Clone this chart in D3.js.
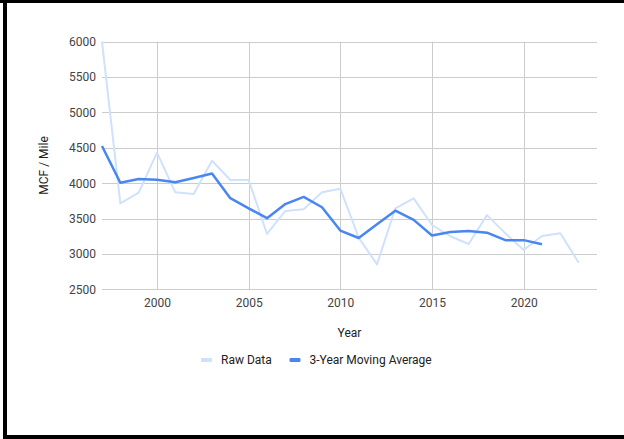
<!DOCTYPE html>
<html>
<head>
<meta charset="utf-8">
<script src="https://cdn.jsdelivr.net/npm/d3@7"></script>
<style>
  html, body { margin: 0; padding: 0; background: #fff; }
  svg { display: block; font-family: Roboto, Arial, sans-serif; }
</style>
</head>
<body>
<svg id="chart" width="624" height="439"></svg>
<script>
// Gas volume per mile of line, yearly readings and the 3-year moving average
const years = [1997, 1998, 1999, 2000, 2001, 2002, 2003, 2004, 2005, 2006, 2007, 2008, 2009,
  2010, 2011, 2012, 2013, 2014, 2015, 2016, 2017, 2018, 2019, 2020, 2021, 2022, 2023];
const rawData = [6000, 3716, 3866, 4431, 3871, 3847, 4318, 4045, 4045, 3282, 3607, 3631, 3871,
  3922, 3230, 2853, 3645, 3786, 3409, 3250, 3140, 3549, 3291, 3055, 3253, 3291, 2876];
const maYears = [1997, 1998, 1999, 2000, 2001, 2002, 2003, 2004, 2005, 2006, 2007, 2008, 2009,
  2010, 2011, 2012, 2013, 2014, 2015, 2016, 2017, 2018, 2019, 2020, 2021];
const movingAvg = [4526, 4007, 4059, 4049, 4012, 4073, 4137, 3788, 3645, 3505, 3705, 3806, 3660,
  3330, 3225, 3420, 3612, 3482, 3260, 3310, 3325, 3300, 3195, 3195, 3138];
const xTicks = [2000, 2005, 2010, 2015, 2020];
const yTicks = [2500, 3000, 3500, 4000, 4500, 5000, 5500, 6000];
const seriesNames = ["Raw Data", "3-Year Moving Average"];

const svg = d3.select("#chart");
const W = 624, H = 439;
const plot = { left: 102, right: 597, top: 41.7, bottom: 289.3 };

// page frame
svg.append("rect").attr("x", 0).attr("y", 0).attr("width", W).attr("height", 3).attr("fill", "#000");
svg.append("rect").attr("x", 3).attr("y", 0).attr("width", 4).attr("height", H).attr("fill", "#000");
svg.append("rect").attr("x", 3).attr("y", 435).attr("width", W - 3).attr("height", 4).attr("fill", "#000");

const x = d3.scaleLinear().domain([1997, 2024]).range([plot.left, plot.right]);
const y = d3.scaleLinear().domain([2500, 6000]).range([plot.bottom, plot.top]);

const grid = svg.append("g");
grid.selectAll("line.h").data(yTicks).join("line")
  .attr("x1", plot.left).attr("x2", plot.right)
  .attr("y1", d => Math.round(y(d)) + 0.5).attr("y2", d => Math.round(y(d)) + 0.5)
  .attr("stroke", "#cccccc").attr("stroke-width", 1);
grid.selectAll("line.v").data(xTicks).join("line")
  .attr("y1", plot.top).attr("y2", plot.bottom)
  .attr("x1", d => Math.round(x(d)) + 0.5).attr("x2", d => Math.round(x(d)) + 0.5)
  .attr("stroke", "#cccccc").attr("stroke-width", 1);

// axes drawn with d3-axis, domain paths and tick marks hidden
const yAxis = svg.append("g").attr("transform", `translate(${plot.left},0)`)
  .call(d3.axisLeft(y).tickValues(yTicks).tickSize(0).tickPadding(6).tickFormat(d3.format("d")));
const xAxis = svg.append("g").attr("transform", `translate(0,${plot.bottom})`)
  .call(d3.axisBottom(x).tickValues(xTicks).tickSize(0).tickPadding(9).tickFormat(d3.format("d")));
[yAxis, xAxis].forEach(a => {
  a.select(".domain").remove();
  a.selectAll("text").attr("fill", "#444").style("font-size", "12px").style("font-family", "Roboto, Arial, sans-serif");
});

// axis titles
svg.append("text").attr("x", (plot.left + plot.right) / 2).attr("y", 337)
  .attr("text-anchor", "middle").attr("fill", "#222").style("font-size", "12px").text("Year");
svg.append("text")
  .attr("transform", `translate(48,${(plot.top + plot.bottom) / 2}) rotate(-90)`)
  .attr("text-anchor", "middle").attr("fill", "#222").style("font-size", "12px").text("MCF / Mile");

// series lines
const rawPts = years.map((yr, i) => [yr, rawData[i]]);
const maPts = maYears.map((yr, i) => [yr, movingAvg[i]]);
const line = d3.line().x(d => x(d[0])).y(d => y(d[1]));

svg.append("path").datum(rawPts).attr("d", line)
  .attr("fill", "none").attr("stroke", "#d0e1fc").attr("stroke-width", 2)
  .attr("stroke-linejoin", "round");
svg.append("path").datum(maPts).attr("d", line)
  .attr("fill", "none").attr("stroke", "#4a86f0").attr("stroke-width", 2.5)
  .attr("stroke-linejoin", "round");

// legend
const legendColors = ["#d0e1fc", "#4a86f0"];
const legendX = [201, 289.5];
const lg = svg.append("g");
seriesNames.forEach((name, i) => {
  lg.append("rect").attr("x", legendX[i]).attr("y", 358).attr("width", 11).attr("height", 4)
    .attr("rx", 1).attr("fill", legendColors[i]);
  lg.append("text").attr("x", legendX[i] + 20).attr("y", 364)
    .attr("fill", "#222").style("font-size", "12px").text(name);
});
</script>
</body>
</html>
